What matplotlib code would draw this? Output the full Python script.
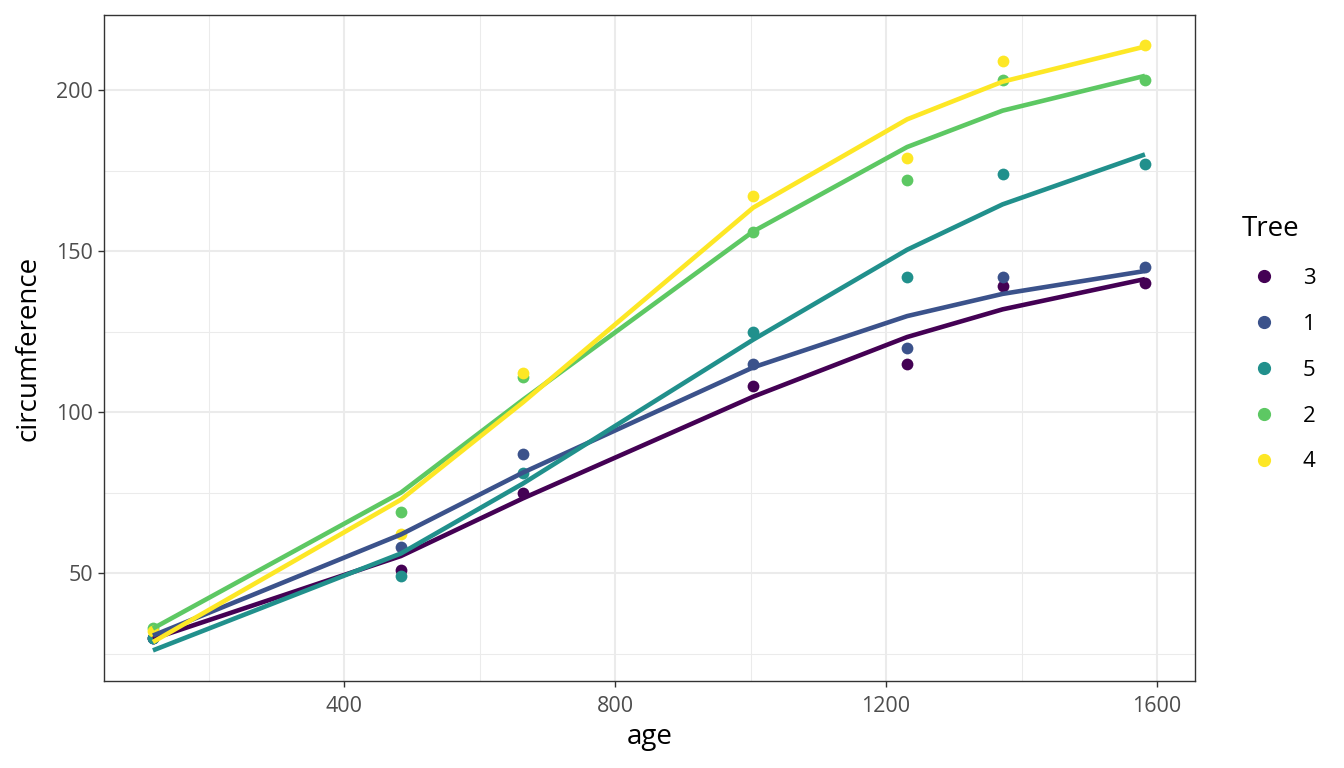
import numpy as np
import matplotlib
matplotlib.use("Agg")
import matplotlib.pyplot as plt
from matplotlib.ticker import MultipleLocator
from matplotlib.lines import Line2D

plt.rcParams['font.family'] = ['Open Sans', 'DejaVu Sans']

age = [118, 484, 664, 1004, 1231, 1372, 1582]
trees = ["3", "1", "5", "2", "4"]
colors = ["#440154", "#3B528B", "#21908C", "#5DC863", "#FDE725"]

# observed circumference
circ = {
    "1": [30, 58, 87, 115, 120, 142, 145],
    "2": [33, 69, 111, 156, 172, 203, 203],
    "3": [30, 51, 75, 108, 115, 139, 140],
    "4": [32, 62, 112, 167, 179, 209, 214],
    "5": [30, 49, 81, 125, 142, 174, 177],
}

# fitted values
fitted = {
    "3": [29.6, 55.3, 73.2, 104.8, 123.3, 131.9, 141.3],
    "1": [30.6, 62.0, 81.2, 113.9, 129.8, 136.7, 143.8],
    "5": [26.0, 56.1, 77.8, 122.5, 150.4, 164.5, 180.0],
    "2": [32.8, 75.0, 103.8, 156.1, 182.3, 193.6, 204.4],
    "4": [28.6, 72.8, 103.0, 163.5, 190.9, 202.6, 213.5],
}

fig = plt.figure(figsize=(13.44, 7.68), dpi=100)
ax = fig.add_axes([0.0774, 0.1133, 0.8118, 0.8672])

for t, c in zip(trees, colors):
    ax.scatter(age, circ[t], s=72, color=c, zorder=3, linewidths=0)
for t, c in zip(trees, colors):
    ax.plot(age, fitted[t], color=c, lw=3.3, zorder=4, solid_capstyle="butt")

ax.set_xlim(45.8, 1656)
ax.set_ylim(16.5, 223.3)
ax.xaxis.set_major_locator(MultipleLocator(400))
ax.xaxis.set_minor_locator(MultipleLocator(200))
ax.yaxis.set_major_locator(MultipleLocator(50))
ax.yaxis.set_minor_locator(MultipleLocator(25))
ax.grid(which="major", color="#EBEBEB", lw=1.5, zorder=0)
ax.grid(which="minor", color="#EBEBEB", lw=0.75, zorder=0)
ax.set_axisbelow(True)
ax.tick_params(which="major", length=4, width=1, color="#333333", labelsize=15.5,
               labelcolor="#4D4D4D")
ax.tick_params(axis="x", pad=7)
ax.tick_params(axis="y", pad=4)
ax.tick_params(which="minor", length=0)
for s in ax.spines.values():
    s.set_color("#333333")
    s.set_linewidth(1)

ax.set_xlabel("age", fontsize=20, labelpad=4)
ax.set_ylabel("circumference", fontsize=20, labelpad=10)

handles = [Line2D([], [], marker="o", ls="", color=c, markersize=8.5) for c in colors]
leg = fig.legend(handles, trees, title="Tree", loc="upper left",
                 bbox_to_anchor=(0.924, 0.72), frameon=False, fontsize=16,
                 title_fontsize=20, labelspacing=1.12, handletextpad=0.75,
                 handlelength=2.0, borderpad=0, borderaxespad=0)
leg._legend_box.align = "left"

fig.savefig("out.png", dpi=100)
